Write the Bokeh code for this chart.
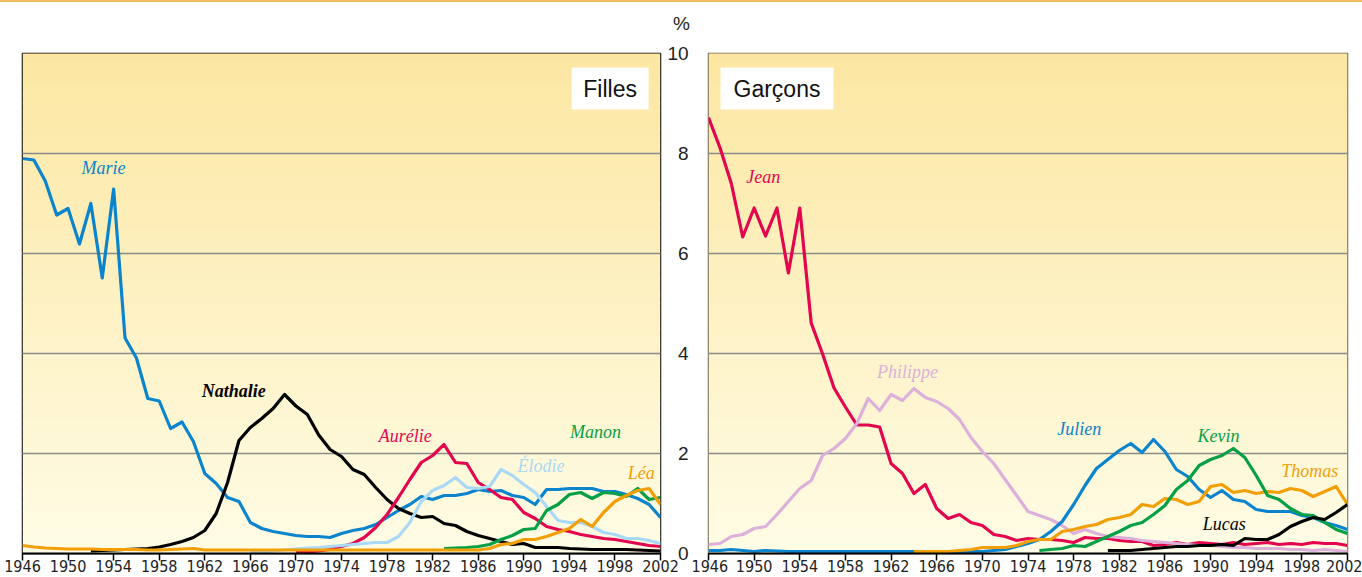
from bokeh.plotting import figure
from bokeh.models import FixedTicker, Div, CustomJSTickFormatter
from bokeh.layouts import row, column
from bokeh.embed import file_html
from bokeh.resources import INLINE
from bokeh.core.properties import value

# ---------------- data ----------------
x_ticks = list(range(1946, 2003, 4))
y_ticks = [0, 2, 4, 6, 8, 10]
unit_label = "%"

# Filles (start year, values %)
marie_start = 1946
marie = [7.9, 7.87, 7.45, 6.77, 6.9, 6.19, 7.0, 5.51, 7.29, 4.31, 3.91, 3.1, 3.05, 2.5, 2.63, 2.24,
         1.6, 1.4, 1.12, 1.04, 0.62, 0.5, 0.44, 0.4, 0.36, 0.34, 0.34, 0.32, 0.4, 0.46, 0.5, 0.58,
         0.72, 0.86, 0.98, 1.14, 1.08, 1.16, 1.16, 1.2, 1.28, 1.24, 1.26, 1.16, 1.12, 0.98, 1.28,
         1.28, 1.3, 1.3, 1.3, 1.24, 1.24, 1.18, 1.1, 0.98, 0.72]
nathalie_start = 1952
nathalie = [0.05, 0.06, 0.07, 0.08, 0.09, 0.1, 0.13, 0.18, 0.24, 0.32, 0.46, 0.8, 1.42, 2.26, 2.52,
            2.7, 2.9, 3.18, 2.95, 2.78, 2.37, 2.08, 1.94, 1.68, 1.58, 1.32, 1.08, 0.9, 0.8, 0.72,
            0.74, 0.6, 0.56, 0.44, 0.36, 0.3, 0.24, 0.18, 0.2, 0.12, 0.12, 0.12, 0.1, 0.09, 0.08,
            0.08, 0.08, 0.08, 0.07, 0.06, 0.05]
aurelie_start = 1970
aurelie = [0.02, 0.03, 0.05, 0.08, 0.14, 0.2, 0.32, 0.52, 0.78, 1.12, 1.48, 1.82, 1.96, 2.18, 1.82,
           1.8, 1.42, 1.28, 1.12, 1.08, 0.82, 0.7, 0.54, 0.48, 0.44, 0.38, 0.34, 0.3, 0.28, 0.24,
           0.2, 0.16, 0.14]
elodie_start = 1966
elodie = [0.02, 0.03, 0.05, 0.07, 0.09, 0.11, 0.12, 0.14, 0.16, 0.18, 0.2, 0.22, 0.22, 0.34, 0.62,
          1.04, 1.26, 1.36, 1.52, 1.32, 1.3, 1.34, 1.68, 1.56, 1.38, 1.22, 0.94, 0.66, 0.62, 0.62,
          0.54, 0.42, 0.38, 0.3, 0.3, 0.26, 0.2]
manon_start = 1983
manon = [0.1, 0.11, 0.12, 0.14, 0.18, 0.28, 0.36, 0.48, 0.5, 0.86, 0.98, 1.18, 1.22, 1.1, 1.22,
         1.2, 1.14, 1.3, 1.08, 1.12]
lea_start = 1946
lea = [0.16, 0.13, 0.11, 0.1, 0.09, 0.09, 0.09, 0.08, 0.08, 0.08, 0.08, 0.07, 0.07, 0.08, 0.09,
       0.1, 0.07, 0.07, 0.07, 0.07, 0.07, 0.07, 0.07, 0.07, 0.07, 0.07, 0.07, 0.07, 0.07, 0.07,
       0.07, 0.07, 0.07, 0.07, 0.07, 0.07, 0.07, 0.07, 0.07, 0.07, 0.07, 0.1, 0.18, 0.2, 0.28,
       0.28, 0.34, 0.42, 0.5, 0.68, 0.54, 0.82, 1.04, 1.16, 1.26, 1.3, 0.98]

# Garçons
jean_start = 1946
jean = [8.72, 8.12, 7.4, 6.33, 6.91, 6.35, 6.91, 5.61, 6.91, 4.61, 3.99, 3.31, 2.93, 2.57, 2.57,
        2.53, 1.8, 1.6, 1.2, 1.38, 0.9, 0.7, 0.78, 0.62, 0.56, 0.38, 0.34, 0.26, 0.3, 0.28, 0.28,
        0.26, 0.22, 0.32, 0.3, 0.3, 0.26, 0.24, 0.24, 0.16, 0.18, 0.22, 0.18, 0.22, 0.2, 0.18,
        0.22, 0.18, 0.2, 0.22, 0.18, 0.2, 0.18, 0.22, 0.2, 0.2, 0.16]
philippe_start = 1946
philippe = [0.18, 0.2, 0.34, 0.38, 0.5, 0.54, 0.78, 1.04, 1.3, 1.46, 1.96, 2.1, 2.3, 2.6, 3.1, 2.86,
            3.18, 3.06, 3.3, 3.12, 3.04, 2.9, 2.68, 2.32, 2.04, 1.8, 1.48, 1.16, 0.84, 0.76, 0.68,
            0.56, 0.4, 0.48, 0.4, 0.34, 0.32, 0.3, 0.26, 0.24, 0.22, 0.2, 0.18, 0.16, 0.16, 0.14,
            0.12, 0.12, 0.1, 0.1, 0.1, 0.08, 0.08, 0.06, 0.08, 0.06, 0.04]
julien_start = 1946
julien = [0.06, 0.06, 0.08, 0.06, 0.04, 0.06, 0.05, 0.04, 0.04, 0.04, 0.04, 0.04, 0.04, 0.04, 0.04,
          0.04, 0.04, 0.04, 0.04, 0.04, 0.04, 0.04, 0.04, 0.04, 0.04, 0.06, 0.08, 0.14, 0.2, 0.28,
          0.44, 0.64, 0.98, 1.36, 1.7, 1.88, 2.06, 2.2, 2.02, 2.28, 2.04, 1.68, 1.54, 1.28, 1.12,
          1.26, 1.08, 1.04, 0.88, 0.84, 0.84, 0.84, 0.76, 0.72, 0.62, 0.56, 0.48]
kevin_start = 1975
kevin = [0.06, 0.08, 0.1, 0.16, 0.14, 0.24, 0.34, 0.44, 0.56, 0.62, 0.78, 0.96, 1.28, 1.46, 1.76,
         1.88, 1.96, 2.1, 1.92, 1.56, 1.16, 1.08, 0.9, 0.78, 0.76, 0.62, 0.48, 0.4]
thomas_start = 1964
thomas = [0.04, 0.04, 0.04, 0.04, 0.06, 0.08, 0.12, 0.12, 0.12, 0.16, 0.24, 0.28, 0.28, 0.44, 0.48,
          0.54, 0.58, 0.68, 0.72, 0.78, 0.98, 0.94, 1.1, 1.08, 0.98, 1.04, 1.34, 1.38, 1.22, 1.26,
          1.2, 1.24, 1.22, 1.3, 1.26, 1.14, 1.24, 1.34, 0.98]
lucas_start = 1981
lucas = [0.06, 0.06, 0.06, 0.08, 0.1, 0.12, 0.14, 0.14, 0.16, 0.16, 0.18, 0.16, 0.3, 0.28, 0.28,
         0.38, 0.54, 0.64, 0.72, 0.68, 0.82, 0.98]

# ---------------- styles ----------------
BLUE = "#0a84cc"
RED = "#e3064f"
BLACK = "#000000"
LIGHTBLUE = "#a9d9f5"
GREEN = "#05a045"
ORANGE = "#f29f05"
MAUVE = "#dcb0da"

girls = [
    ("Marie", marie_start, marie, BLUE, (1953.1, 7.72), "italic"),
    ("Nathalie", nathalie_start, nathalie, BLACK, (1964.55, 3.26), "bold italic"),
    ("Aurélie", aurelie_start, aurelie, RED, (1979.6, 2.36), "italic"),
    ("Élodie", elodie_start, elodie, LIGHTBLUE, (1991.5, 1.76), "italic"),
    ("Manon", manon_start, manon, GREEN, (1996.3, 2.43), "italic"),
    ("Léa", lea_start, lea, ORANGE, (2000.3, 1.62), "italic"),
]
boys = [
    ("Jean", jean_start, jean, RED, (1950.8, 7.53), "italic"),
    ("Philippe", philippe_start, philippe, MAUVE, (1963.45, 3.63), "italic"),
    ("Julien", julien_start, julien, BLUE, (1978.5, 2.5), "italic"),
    ("Thomas", thomas_start, thomas, ORANGE, (1998.7, 1.66), "italic"),
    ("Kevin", kevin_start, kevin, GREEN, (1990.7, 2.36), "italic"),
    ("Lucas", lucas_start, lucas, BLACK, (1991.2, 0.6), "italic"),
]

TOP_C = (252, 231, 162)
BOT_C = (255, 252, 229)
TOP_H = 40  # height of the strip above the plots


def make_fig(width, mbl, mbr, y_right):
    p = figure(width=width, height=577 - TOP_H, x_range=(1946, 2002), y_range=(0, 10),
               output_backend="svg", toolbar_location=None,
               min_border_left=mbl, min_border_right=mbr, min_border_top=53 - TOP_H,
               min_border_bottom=24,
               y_axis_location="right" if y_right else None)
    p.background_fill_color = "white"
    p.border_fill_color = "white"
    p.outline_line_color = "black"
    p.outline_line_width = 1.5
    # gradient background
    n = 60
    bottoms, tops, cols = [], [], []
    for i in range(n):
        t = i / (n - 1)
        c = tuple(int(round(BOT_C[k] + (TOP_C[k] - BOT_C[k]) * t)) for k in range(3))
        bottoms.append(10 * i / n)
        tops.append(10 * (i + 1) / n + 0.01)
        cols.append("#%02x%02x%02x" % c)
    bg = p.quad(left=1946, right=2002, bottom=bottoms, top=tops, fill_color=cols, line_color=None)
    bg.level = "image"
    # grids
    p.xgrid.visible = False
    p.ygrid.ticker = FixedTicker(ticks=[2, 4, 6, 8])
    p.ygrid.grid_line_color = "#8a8a8a"
    p.ygrid.grid_line_width = 1.6
    # x axis
    ax = p.xaxis[0]
    ax.ticker = FixedTicker(ticks=x_ticks)
    ax.major_tick_out = 7
    ax.major_tick_in = 0
    ax.minor_tick_line_color = None
    ax.axis_line_width = 2
    ax.major_tick_line_width = 1.5
    ax.major_label_text_font = "DejaVu Sans Condensed"
    ax.major_label_text_font_size = "16px"
    ax.major_label_text_color = "#222222"
    ax.major_label_standoff = -1
    if y_right:
        ya = p.yaxis[0]
        ya.ticker = FixedTicker(ticks=y_ticks)
        ya.formatter = CustomJSTickFormatter(
            code="return tick < 10 ? '\\u2007' + tick : '' + tick;")
        ya.major_tick_out = 0
        ya.major_tick_in = 0
        ya.minor_tick_line_color = None
        ya.axis_line_color = None
        ya.major_label_text_font = "Liberation Sans"
        ya.major_label_text_font_size = "19px"
        ya.major_label_text_color = "#222222"
        ya.major_label_standoff = 7
    return p


def add_series(p, series):
    for name, start, vals, color, (lx, ly), style in series:
        xs = list(range(start, start + len(vals)))
        p.line(xs, vals, line_color=color, line_width=3.2, line_join="round")
    for name, start, vals, color, (lx, ly), style in series:
        p.text(x=[lx], y=[ly], text=[name], text_color=color,
               text_font=value("Liberation Serif"), text_font_style=style,
               text_font_size="18px", text_align="center", text_baseline="middle")


def add_title(p, title, left, right, cx):
    p.quad(left=[left], right=[right], bottom=[8.88], top=[9.72], fill_color="white", line_color=None)
    p.text(x=[cx], y=[9.3], text=[title], text_color="#111111",
           text_font=value("Liberation Sans"), text_font_size="23px",
           text_align="center", text_baseline="middle")


left = make_fig(691, 22, 31, True)
add_series(left, girls)
add_title(left, "Filles", 1994.2, 2000.96, 1997.58)

right = make_fig(671, 17, 15, False)
right.outline_line_color = "#6f6650"
add_series(right, boys)
add_title(right, "Garçons", 1947.05, 1956.96, 1952.0)

top_html = (
    '<div style="width:1362px;height:2px;background:#f3b961;"></div>'
    '<div style="padding-left:673px;padding-top:12px;font-family:\'Liberation Sans\';'
    'font-size:19px;line-height:20px;color:#222222;">' + unit_label + '</div>'
)
top = Div(text=top_html, width=1362, height=TOP_H, styles={"margin": "0", "padding": "0"})

layout = column(top, row(left, right, spacing=0), spacing=0)

with open("out.html", "w") as f:
    f.write(file_html(layout, INLINE))
